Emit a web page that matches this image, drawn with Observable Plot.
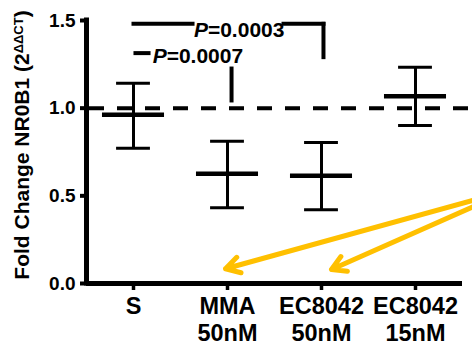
<!DOCTYPE html>
<html>
<head>
<meta charset="utf-8">
<script src="https://cdn.jsdelivr.net/npm/d3@7"></script>
<script src="https://cdn.jsdelivr.net/npm/@observablehq/plot@0.6"></script>
<style>
  html, body { margin: 0; padding: 0; background: white; }
  #chart { width: 472px; height: 347px; overflow: hidden; }
</style>
</head>
<body>
<div id="chart"></div>
<script>
// ---- data ----
const categories = ["S", "MMA\n50nM", "EC8042\n50nM", "EC8042\n15nM"];
const means = [0.962, 0.626, 0.614, 1.068];
const upper = [1.142, 0.812, 0.804, 1.234];
const lower = [0.772, 0.432, 0.420, 0.901];
const yTicks = [0, 0.5, 1.0, 1.5];
const referenceLine = [1.0];

// significance annotations (data units: x = category index, y = fold change)
const pLabels = ["P=0.0003", "P=0.0007"];
const pLabelX = [1.124, 0.685];
const pLabelY = [1.446, 1.295];
const bracketX1 = [0.0, 1.596, 2.021, 0.021, 1.043];
const bracketX2 = [0.628, 2.021, 2.021, 0.160, 1.043];
const bracketY1 = [1.481, 1.481, 1.481, 1.314, 1.226];
const bracketY2 = [1.481, 1.481, 1.291, 1.314, 1.044];

// yellow highlight arrows
const arrowX1 = [3.691, 3.691];
const arrowY1 = [0.486, 0.456];
const arrowX2 = [0.979, 2.106];
const arrowY2 = [0.084, 0.080];

const groups = categories.map((c, i) => ({i, c, mean: means[i], hi: upper[i], lo: lower[i]}));
const brackets = bracketX1.map((_, k) => ({x1: bracketX1[k], x2: bracketX2[k], y1: bracketY1[k], y2: bracketY2[k]}));
const pTable = pLabels.map((t, k) => ({t, x: pLabelX[k], y: pLabelY[k]}));
const arrows = arrowX1.map((_, k) => ({x1: arrowX1[k], y1: arrowY1[k], x2: arrowX2[k], y2: arrowY2[k]}));

const meanHalf = 0.33, capHalf = 0.18;
const font = "'Liberation Sans', Arial, Helvetica, sans-serif";

const plot = Plot.plot({
  width: 472,
  height: 347,
  marginLeft: 86,
  marginRight: 10,
  marginTop: 20,
  marginBottom: 64,
  x: {type: "linear", domain: [-0.5, 3.5], axis: null},
  y: {domain: [0, 1.5], axis: null},
  style: {fontFamily: font, fontWeight: "bold", color: "black", background: "white", overflow: "visible"},
  marks: [
    // reference dashed line at 1.0
    Plot.ruleY(referenceLine, {x1: -0.5, x2: 3.62, stroke: "black", strokeWidth: 4, strokeDasharray: "15,13", strokeDashoffset: -3}),
    // error bars
    Plot.ruleX(groups, {x: "i", y1: "lo", y2: "hi", stroke: "black", strokeWidth: 3}),
    Plot.ruleY(groups, {y: "hi", x1: d => d.i - capHalf, x2: d => d.i + capHalf, stroke: "black", strokeWidth: 3}),
    Plot.ruleY(groups, {y: "lo", x1: d => d.i - capHalf, x2: d => d.i + capHalf, stroke: "black", strokeWidth: 3}),
    Plot.ruleY(groups, {y: "mean", x1: d => d.i - meanHalf, x2: d => d.i + meanHalf, stroke: "black", strokeWidth: 4.5}),
    // axes
    Plot.axisY(yTicks, {tickSize: 6, tickPadding: 5, tickFormat: d => d.toFixed(1), fontSize: 19, fontWeight: "bold", strokeWidth: 4, label: null}),
    Plot.axisX(d3.range(categories.length), {tickSize: 7, tickPadding: 5, tickFormat: i => categories[i], fontSize: 23.5, fontWeight: "bold", lineHeight: 1.12, strokeWidth: 3.5, label: null}),
    Plot.ruleX([-0.5], {y1: 0, y2: 1.5, stroke: "black", strokeWidth: 5, strokeLinecap: "square"}),
    Plot.ruleY([0], {x1: -0.5, x2: 3.5, stroke: "black", strokeWidth: 5}),
    // significance brackets
    Plot.link(brackets, {x1: "x1", y1: "y1", x2: "x2", y2: "y2", stroke: "black", strokeWidth: 4, strokeLinecap: "square"}),
    Plot.text(pTable, {x: "x", y: "y", text: "t", fontSize: 21, fontWeight: "bold", fill: "black"}),
    // yellow arrows
    Plot.arrow(arrows, {x1: "x1", y1: "y1", x2: "x2", y2: "y2", stroke: "#FFC000", strokeWidth: 5, headLength: 4.8, headAngle: 60})
  ]
});

const svg = d3.select(plot);
// italic P in the p-value labels
svg.selectAll("text").filter(function() { return /^P=/.test(this.textContent); }).each(function() {
  const t = this.textContent;
  const el = d3.select(this);
  el.text("");
  el.append("tspan").attr("font-style", "italic").text("P");
  el.append("tspan").text(t.slice(1));
});

// y-axis title with superscript
const yl = svg.append("text")
  .attr("transform", "translate(29,145) rotate(-90)")
  .attr("text-anchor", "middle")
  .attr("font-family", font)
  .attr("font-weight", "bold")
  .attr("font-size", 21)
  .attr("fill", "black");
yl.append("tspan").text("Fold Change NR0B1 (2");
yl.append("tspan").attr("font-size", 13).attr("dy", "-0.5em").text("ΔΔCT");
yl.append("tspan").attr("dy", "0.33em").text(")");

document.getElementById("chart").appendChild(plot);
</script>
</body>
</html>
